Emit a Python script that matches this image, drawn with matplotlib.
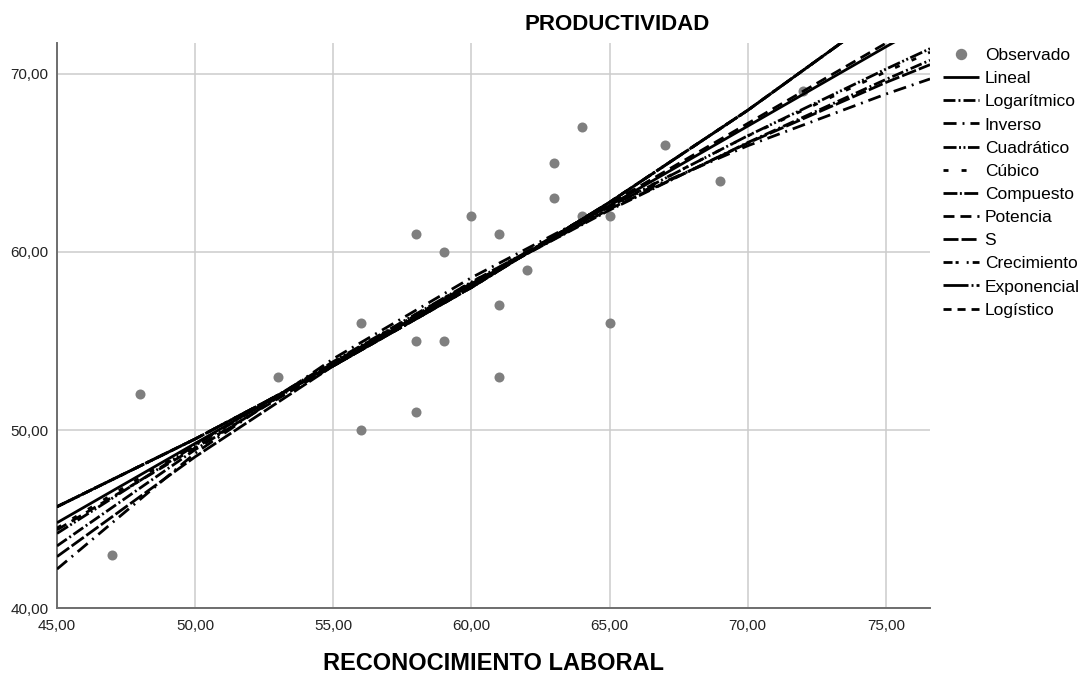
import matplotlib
matplotlib.use('Agg')
import matplotlib.pyplot as plt
from matplotlib.lines import Line2D
from matplotlib.ticker import FuncFormatter, MultipleLocator

plt.rcParams['font.family'] = ['Liberation Sans', 'DejaVu Sans']
plt.rcParams['lines.scale_dashes'] = False

# ── Observed points ─────────────────────────────────────────────────────
OBS_X = [47, 48, 53, 56, 56, 58, 58, 58, 59, 59, 60, 61,
         61, 61, 62, 63, 63, 64, 64, 65, 65, 67, 69, 72]
OBS_Y = [43, 52, 53, 56, 50, 61, 55, 51, 60, 55, 62, 61,
         57, 53, 59, 65, 63, 67, 62, 62, 56, 66, 64, 69]

# ── Fitted curves, values at CURVE_X ────────────────────────────────────
CURVE_X = [45, 50, 55, 60, 65, 70, 75, 76.6]
LINEAL = [44.8, 49.25, 53.7, 58.15, 62.6, 67.05, 71.5, 72.9]
LOGARITMICO = [43.5, 48.9, 53.78, 58.24, 62.34, 66.13, 69.67, 70.75]
INVERSO = [42.2, 48.7, 54.0, 58.55, 62.6, 65.95, 68.85, 69.7]
CUADRATICO = [44.2, 49.14, 53.84, 58.3, 62.52, 66.51, 70.25, 71.4]
CUBICO = [44.5, 49.2, 53.8, 58.3, 62.55, 66.5, 70.1, 71.2]
COMPUESTO = [45.7, 49.5, 53.6, 58.0, 62.78, 67.94, 73.53, 75.41]
POTENCIA = [44.4, 49.0, 53.6, 58.2, 62.7, 67.2, 71.7, 73.1]
S_CURVA = [42.9, 48.5, 53.6, 58.2, 62.4, 66.1, 69.5, 70.5]
CRECIMIENTO = [45.7, 49.5, 53.6, 58.0, 62.78, 67.94, 73.53, 75.41]
EXPONENCIAL = [45.7, 49.5, 53.6, 58.0, 62.78, 67.94, 73.53, 75.41]
LOGISTICO = [45.7, 49.5, 53.6, 58.0, 62.78, 67.94, 73.53, 75.41]

CURVES = [
    ("Lineal", LINEAL, (0, ())),
    ("Logarítmico", LOGARITMICO, (0, (8.6, 2.2, 1.4, 2.2))),
    ("Inverso", INVERSO, (0, (9.4, 4.3, 1.4, 4.3))),
    ("Cuadrático", CUADRATICO, (0, (9.4, 1.8, 1.4, 1.8, 1.4, 1.8))),
    ("Cúbico", CUBICO, (0, (3.6, 9.4))),
    ("Compuesto", COMPUESTO, (0, (10, 1.8, 1.4, 1.8))),
    ("Potencia", POTENCIA, (0, (7.9, 4.3))),
    ("S", S_CURVA, (0, (10.8, 2.2))),
    ("Crecimiento", CRECIMIENTO, (0, (6.5, 2.2, 2.2, 5.8, 1.4, 2.9))),
    ("Exponencial", EXPONENCIAL, (0, (18, 2.2, 1.4, 2.2))),
    ("Logístico", LOGISTICO, (0, (5.8, 4.3))),
]

W, H = 1091, 674
fig = plt.figure(figsize=(W / 100, H / 100), dpi=100)
ax = fig.add_axes([57 / W, 1 - 608.3 / H, (930 - 57) / W, (608.3 - 43.3) / H])

ax.scatter(OBS_X, OBS_Y, s=52, color="#7f7f7f", zorder=2, linewidths=0)

handles = [Line2D([], [], marker="o", linestyle="none", color="#7f7f7f", markersize=7.2)]
labels = ["Observado"]
for name, vals, ls in CURVES:
    ax.plot(CURVE_X, vals, color="black", linewidth=2.0, linestyle=ls, zorder=3)
    handles.append(Line2D([], [], color="black", linewidth=2.0, linestyle=ls))
    labels.append(name)

ax.set_xlim(45, 76.6)
ax.set_ylim(40, 71.7)
ax.xaxis.set_major_locator(MultipleLocator(5))
ax.yaxis.set_major_locator(MultipleLocator(10))
fmt = FuncFormatter(lambda v, p: f"{v:.2f}".replace(".", ","))
ax.xaxis.set_major_formatter(fmt)
ax.yaxis.set_major_formatter(fmt)
ax.tick_params(length=0, labelsize=11, colors="#222222")
ax.tick_params(axis="x", pad=8)
ax.tick_params(axis="y", pad=6)

ax.grid(True, color="#cccccc", linewidth=1.1)
ax.set_axisbelow(True)
for side in ("top", "right"):
    ax.spines[side].set_visible(False)
for side in ("left", "bottom"):
    ax.spines[side].set_color("#6e6e6e")
    ax.spines[side].set_linewidth(1.4)

ax.legend(handles, labels, loc="upper left", bbox_to_anchor=(943 / W, 1 - 48 / H),
          bbox_transform=fig.transFigure, frameon=False, fontsize=12.5,
          handlelength=2.1, handletextpad=0.3, labelspacing=0.46,
          borderpad=0, borderaxespad=0)

fig.text(617 / W, 1 - 24.5 / H, "PRODUCTIVIDAD", ha="center", va="center",
         fontsize=16, fontweight="bold")
fig.text(493.5 / W, 1 - 664 / H, "RECONOCIMIENTO LABORAL", ha="center", va="center",
         fontsize=17, fontweight="bold")

fig.savefig("out.png", dpi=100)
